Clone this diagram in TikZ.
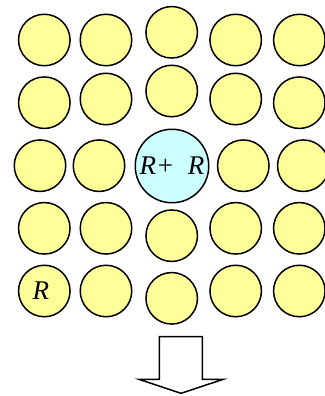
\documentclass[tikz,border=0pt]{standalone}
\usepackage{fontspec}
\setmainfont{Liberation Serif}
\usepackage{xcolor}
\definecolor{ballyellow}{HTML}{FFFF99}
\definecolor{ballcyan}{HTML}{CCFFFF}
\tikzset{
  ball/.style={circle,draw=black,line width=1.5pt,fill=ballyellow,minimum size=51.5pt,inner sep=0pt,font=\fontsize{27}{27}\selectfont\itshape},
  bigball/.style={ball,fill=ballcyan,minimum size=73.5pt}
}
\begin{document}
\begin{tikzpicture}[x=1pt,y=-1pt]
\useasboundingbox (0,0) rectangle (324,396);
% first row
\node[ball] (b11) at (44.3,40) {};
\node[ball] (b12) at (106,40) {};
\node[ball] (b13) at (171.7,32.3) {};
\node[ball] (b14) at (235.7,40) {};
\node[ball] (b15) at (299.3,40) {};
% second row
\node[ball] (b21) at (44.3,102.7) {};
\node[ball] (b22) at (106,99) {};
\node[ball] (b23) at (171.7,91) {};
\node[ball] (b24) at (235.7,99) {};
\node[ball] (b25) at (299.3,102.7) {};
% third row with the large one
\node[ball] (b31) at (40,165.7) {};
\node[ball] (b32) at (99,165.7) {};
\node[bigball] (b33) at (172,166) {R+\ \ R};
\node[ball] (b34) at (243.3,165.7) {};
\node[ball] (b35) at (303.3,165.7) {};
% fourth row
\node[ball] (b41) at (44.3,228.3) {};
\node[ball] (b42) at (106,228.3) {};
\node[ball] (b43) at (171.7,235.7) {};
\node[ball] (b44) at (235.7,228.3) {};
\node[ball] (b45) at (299.3,228.3) {};
% fifth row
\node[ball] (b51) at (44.3,291) {\hspace*{-7pt}R};
\node[ball] (b52) at (106,291) {};
\node[ball] (b53) at (171.7,298.3) {};
\node[ball] (b54) at (235.7,291) {};
\node[ball] (b55) at (299.3,291) {};
% block arrow
\draw[line width=1.5pt,fill=white,line join=miter]
  (159.3,336.7)--(202.3,336.7)--(202.3,379.3)--(223.3,379.3)--(181,393.3)
  --(139,379.3)--(159.3,379.3)--cycle;
\end{tikzpicture}
\end{document}
